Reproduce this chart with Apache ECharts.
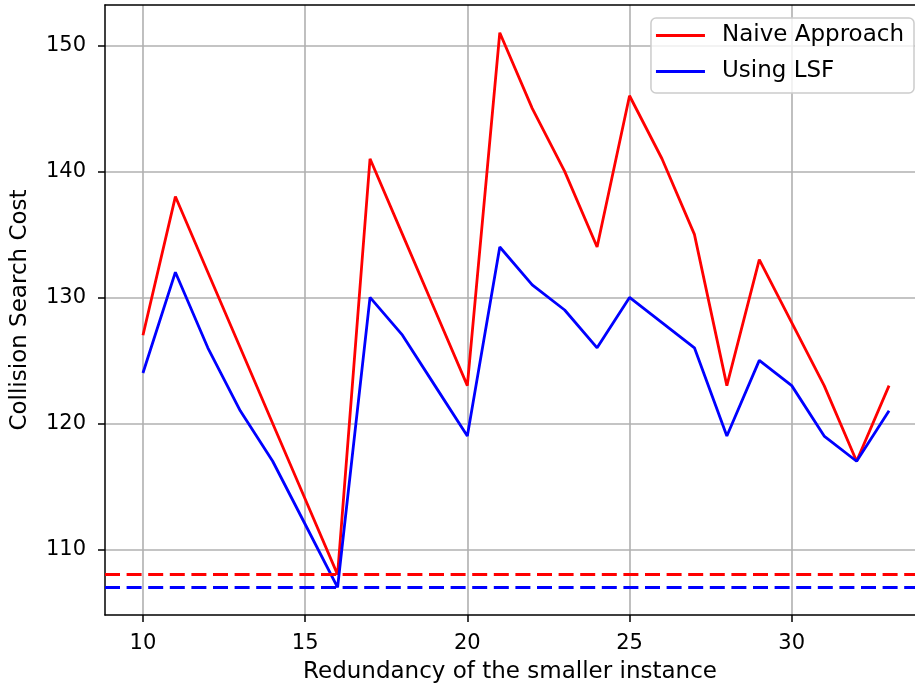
<!DOCTYPE html>
<html>
<head>
<meta charset="utf-8">
<script src="https://cdn.jsdelivr.net/npm/echarts@6/dist/echarts.min.js"></script>
<style>html,body{margin:0;padding:0;background:#fff}#chart{width:915px;height:689px}</style>
</head>
<body>
<div id="chart"></div>
<script>
const redundancy = [10,11,12,13,14,15,16,17,18,19,20,21,22,23,24,25,26,27,28,29,30,31,32,33];
const naiveCost = [127,138,132,126,120,114,108,141,135,129,123,151,145,140,134,146,141,135,123,133,128,123,117,123];
const lsfCost = [124,132,126,121,117,112,107,130,127,123,119,134,131,129,126,130,128,126,119,125,123,119,117,121];
const naiveBaseline = 108;
const lsfBaseline = 107;
const xTicks = [10,15,20,25,30];
const yTicks = [110,120,130,140,150];

const FONT = 'DejaVu Sans';
const FS = 21;
const FN = 23;
const X_MIN = 8.83, X_MAX = 33.8;
const chart = echarts.init(document.getElementById('chart'), null, {renderer: 'canvas'});
const pairs = (ys) => redundancy.map((x, i) => [x, ys[i]]);
const dash = [15, 6.6];
const spine = {show: true, lineStyle: {color: '#000', width: 1.5}};

chart.setOption({
  animation: false,
  backgroundColor: '#fff',
  grid: {left: 105, right: 0, top: 5, bottom: 72, show: false},
  xAxis: [{
    type: 'value', min: X_MIN, max: X_MAX, position: 'bottom',
    name: 'Redundancy of the smaller instance', nameLocation: 'middle', nameGap: 46,
    nameTextStyle: {fontFamily: FONT, fontSize: FN, color: '#000'},
    axisLine: spine,
    axisTick: {show: true, length: 7, lineStyle: {color: '#000', width: 1.5}, customValues: xTicks},
    axisLabel: {fontFamily: FONT, fontSize: FS, color: '#000', margin: 18, customValues: xTicks},
    splitLine: {show: true, lineStyle: {color: '#b0b0b0', width: 1.6}}
  }, {
    type: 'value', min: X_MIN, max: X_MAX, position: 'top',
    axisLine: spine, axisTick: {show: false}, axisLabel: {show: false}, splitLine: {show: false}
  }],
  yAxis: {
    type: 'value', min: 104.8, max: 153.2,
    name: 'Collision Search Cost', nameLocation: 'middle', nameGap: 73, nameRotate: 90,
    nameTextStyle: {fontFamily: FONT, fontSize: FN, color: '#000'},
    axisLine: spine,
    axisTick: {show: true, length: 7, lineStyle: {color: '#000', width: 1.5}, customValues: yTicks},
    axisLabel: {fontFamily: FONT, fontSize: FS, color: '#000', margin: 19, customValues: yTicks},
    splitLine: {show: true, lineStyle: {color: '#b0b0b0', width: 1.6}}
  },
  legend: {
    orient: 'vertical', right: 1, top: 18,
    padding: [5, 10, 9, 5], itemGap: 11,
    itemWidth: 49, itemHeight: 3, icon: 'rect',
    backgroundColor: 'rgba(255,255,255,0.8)', borderColor: '#cccccc', borderWidth: 1.5, borderRadius: 5,
    textStyle: {fontFamily: FONT, fontSize: FN, color: '#000', lineHeight: 25, padding: [0, 0, 0, 12]},
    data: ['Naive Approach', 'Using LSF']
  },
  series: [
    {
      name: 'Naive Approach', type: 'line', data: pairs(naiveCost), showSymbol: false, symbol: 'none',
      lineStyle: {color: '#ff0000', width: 2.8}, itemStyle: {color: '#ff0000'}, z: 3,
      markLine: {silent: true, symbol: 'none', label: {show: false},
        lineStyle: {color: '#ff0000', width: 2.8, type: dash}, data: [{yAxis: naiveBaseline}]}
    },
    {
      name: 'Using LSF', type: 'line', data: pairs(lsfCost), showSymbol: false, symbol: 'none',
      lineStyle: {color: '#0000ff', width: 2.8}, itemStyle: {color: '#0000ff'}, z: 3,
      markLine: {silent: true, symbol: 'none', label: {show: false},
        lineStyle: {color: '#0000ff', width: 2.8, type: dash}, data: [{yAxis: lsfBaseline}]}
    }
  ]
});
</script>
</body>
</html>
